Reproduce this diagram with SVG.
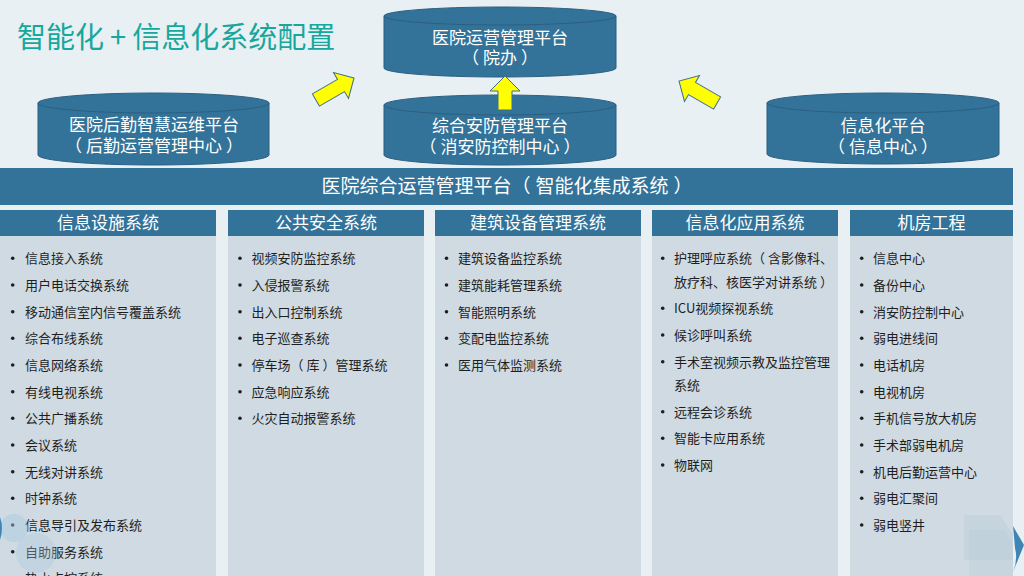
<svg xmlns="http://www.w3.org/2000/svg" width="1024" height="576" viewBox="0 0 1024 576">
<style>
.cjk{font-family:"Noto Sans CJK SC","Liberation Sans",sans-serif}
.cyl{fill:#33739A;stroke:#2B5F80;stroke-width:1}
.cylw{fill:#FFFFFF;font-size:17px;text-anchor:middle}
.hdr{fill:#33739A}
.hdrt{fill:#FFFFFF;font-size:17px;text-anchor:middle}
.panel{fill:#D0DAE2}
.item{fill:#1E1E1E;font-size:13px}
.dot{fill:#1E1E1E}
.arrow{fill:#FFFF00;stroke:#3F6F8C;stroke-width:1}
</style>
<rect x="0" y="0" width="1024" height="576" fill="#E9F0F4"/>
<text class="cjk" x="17" y="48" font-size="29" fill="#17A79C">智能化<tspan dx="6">+</tspan><tspan dx="6">信息化系统配置</tspan></text>

<g id="cyl-top">
<path class="cyl" d="M384,16 L384,68 A116,9 0 0 0 616,68 L616,16 Z"/>
<ellipse class="cyl" cx="500" cy="16" rx="116" ry="9"/>
<text class="cjk cylw" x="500" y="44">医院运营管理平台</text>
<text class="cjk cylw" x="500" y="64">（<tspan dx="4">院办</tspan><tspan dx="4">）</tspan></text>
</g>
<g id="cyl-left">
<path class="cyl" d="M38,103 L38,155 A115.5,10 0 0 0 269,155 L269,103 Z"/>
<ellipse class="cyl" cx="153.5" cy="103" rx="115.5" ry="10"/>
<text class="cjk cylw" x="154" y="131">医院后勤智慧运维平台</text>
<text class="cjk cylw" x="154" y="152">（<tspan dx="4">后勤运营管理中心</tspan><tspan dx="4">）</tspan></text>
</g>
<g id="cyl-mid">
<path class="cyl" d="M384,105 L384,155 A116,10 0 0 0 616,155 L616,105 Z"/>
<ellipse class="cyl" cx="500" cy="105" rx="116" ry="10"/>
<text class="cjk cylw" x="500" y="132">综合安防管理平台</text>
<text class="cjk cylw" x="500" y="153">（<tspan dx="4">消安防控制中心</tspan><tspan dx="4">）</tspan></text>
</g>
<g id="cyl-right">
<path class="cyl" d="M767,103 L767,154 A116,10 0 0 0 999,154 L999,103 Z"/>
<ellipse class="cyl" cx="883" cy="103" rx="116" ry="10"/>
<text class="cjk cylw" x="883" y="132">信息化平台</text>
<text class="cjk cylw" x="883" y="153">（<tspan dx="4">信息中心</tspan><tspan dx="4">）</tspan></text>
</g>

<g id="connectors">
<polygon class="arrow" points="0,0 -15,-15 -15,-7 -44,-7 -44,7 -15,7 -15,15" transform="translate(354,78) rotate(-30)"/>
<polygon class="arrow" points="505,76 520,91 512,91 512,110 498,110 498,91 490,91"/>
<polygon class="arrow" points="0,0 -15,-15 -15,-7 -44,-7 -44,7 -15,7 -15,15" transform="translate(679,81) rotate(-150)"/>
</g>

<g id="banner">
<rect x="0" y="168" width="1013" height="37" fill="#33739A"/>
<text class="cjk" x="507" y="193" font-size="19" fill="#FFFFFF" text-anchor="middle">医院综合运营管理平台（<tspan dx="5">智能化集成系统</tspan><tspan dx="5">）</tspan></text>
</g>

<g id="col1">
<rect class="panel" x="0" y="236" width="216" height="340"/>
<rect class="hdr" x="0" y="210" width="216" height="26"/>
<text class="cjk hdrt" x="108" y="229">信息设施系统</text>
<g class="cjk item">
<text x="25" y="263">信息接入系统</text>
<text x="25" y="290">用户电话交换系统</text>
<text x="25" y="317">移动通信室内信号覆盖系统</text>
<text x="25" y="343">综合布线系统</text>
<text x="25" y="370">信息网络系统</text>
<text x="25" y="397">有线电视系统</text>
<text x="25" y="423">公共广播系统</text>
<text x="25" y="450">会议系统</text>
<text x="25" y="477">无线对讲系统</text>
<text x="25" y="503">时钟系统</text>
<text x="25" y="530">信息导引及发布系统</text>
<text x="25" y="557">自助服务系统</text>
<text x="25" y="583">热水点控系统</text>
</g>
<g class="dot">
<circle cx="12.7" cy="258.3" r="1.8"/><circle cx="12.7" cy="285" r="1.8"/><circle cx="12.7" cy="311.7" r="1.8"/><circle cx="12.7" cy="338.3" r="1.8"/><circle cx="12.7" cy="365" r="1.8"/><circle cx="12.7" cy="391.7" r="1.8"/><circle cx="12.7" cy="418.3" r="1.8"/><circle cx="12.7" cy="445" r="1.8"/><circle cx="12.7" cy="471.7" r="1.8"/><circle cx="12.7" cy="498.3" r="1.8"/><circle cx="12.7" cy="525" r="1.8"/><circle cx="12.7" cy="551.7" r="1.8"/>
</g>
</g>

<g id="col2">
<rect class="panel" x="228" y="236" width="196" height="340"/>
<rect class="hdr" x="228" y="210" width="196" height="26"/>
<text class="cjk hdrt" x="326" y="229">公共安全系统</text>
<g class="cjk item">
<text x="251.5" y="263">视频安防监控系统</text>
<text x="251.5" y="290">入侵报警系统</text>
<text x="251.5" y="317">出入口控制系统</text>
<text x="251.5" y="343">电子巡查系统</text>
<text x="251.5" y="370">停车场（<tspan dx="3">库</tspan><tspan dx="3">）</tspan>管理系统</text>
<text x="251.5" y="397">应急响应系统</text>
<text x="251.5" y="423">火灾自动报警系统</text>
</g>
<g class="dot">
<circle cx="240" cy="258.3" r="1.8"/><circle cx="240" cy="285" r="1.8"/><circle cx="240" cy="311.7" r="1.8"/><circle cx="240" cy="338.3" r="1.8"/><circle cx="240" cy="365" r="1.8"/><circle cx="240" cy="391.7" r="1.8"/><circle cx="240" cy="418.3" r="1.8"/>
</g>
</g>

<g id="col3">
<rect class="panel" x="435" y="236" width="206" height="340"/>
<rect class="hdr" x="435" y="210" width="206" height="26"/>
<text class="cjk hdrt" x="538" y="229">建筑设备管理系统</text>
<g class="cjk item">
<text x="458" y="263">建筑设备监控系统</text>
<text x="458" y="290">建筑能耗管理系统</text>
<text x="458" y="317">智能照明系统</text>
<text x="458" y="343">变配电监控系统</text>
<text x="458" y="370">医用气体监测系统</text>
</g>
<g class="dot">
<circle cx="446.5" cy="258.3" r="1.8"/><circle cx="446.5" cy="285" r="1.8"/><circle cx="446.5" cy="311.7" r="1.8"/><circle cx="446.5" cy="338.3" r="1.8"/><circle cx="446.5" cy="365" r="1.8"/>
</g>
</g>

<g id="col4">
<rect class="panel" x="652" y="236" width="186" height="340"/>
<rect class="hdr" x="652" y="210" width="186" height="26"/>
<text class="cjk hdrt" x="745" y="229">信息化应用系统</text>
<g class="cjk item">
<text x="674" y="263">护理呼应系统（<tspan dx="3">含影像科、</tspan></text>
<text x="674" y="287">放疗科、核医学对讲系统<tspan dx="3">）</tspan></text>
<text x="674" y="313">ICU视频探视系统</text>
<text x="674" y="340">候诊呼叫系统</text>
<text x="674" y="367">手术室视频示教及监控管理</text>
<text x="674" y="390">系统</text>
<text x="674" y="417">远程会诊系统</text>
<text x="674" y="443">智能卡应用系统</text>
<text x="674" y="470">物联网</text>
</g>
<g class="dot">
<circle cx="662.7" cy="258.3" r="1.8"/><circle cx="662.7" cy="308.3" r="1.8"/><circle cx="662.7" cy="335" r="1.8"/><circle cx="662.7" cy="361.7" r="1.8"/><circle cx="662.7" cy="411.7" r="1.8"/><circle cx="662.7" cy="438.3" r="1.8"/><circle cx="662.7" cy="465" r="1.8"/>
</g>
</g>

<g id="col5">
<rect class="panel" x="850" y="236" width="163" height="340"/>
<rect class="hdr" x="850" y="210" width="163" height="26"/>
<text class="cjk hdrt" x="931.5" y="229">机房工程</text>
<g class="cjk item">
<text x="873" y="263">信息中心</text>
<text x="873" y="290">备份中心</text>
<text x="873" y="317">消安防控制中心</text>
<text x="873" y="343">弱电进线间</text>
<text x="873" y="370">电话机房</text>
<text x="873" y="397">电视机房</text>
<text x="873" y="423">手机信号放大机房</text>
<text x="873" y="450">手术部弱电机房</text>
<text x="873" y="477">机电后勤运营中心</text>
<text x="873" y="503">弱电汇聚间</text>
<text x="873" y="530">弱电竖井</text>
</g>
<g class="dot">
<circle cx="861.7" cy="258.3" r="1.8"/><circle cx="861.7" cy="285" r="1.8"/><circle cx="861.7" cy="311.7" r="1.8"/><circle cx="861.7" cy="338.3" r="1.8"/><circle cx="861.7" cy="365" r="1.8"/><circle cx="861.7" cy="391.7" r="1.8"/><circle cx="861.7" cy="418.3" r="1.8"/><circle cx="861.7" cy="445" r="1.8"/><circle cx="861.7" cy="471.7" r="1.8"/><circle cx="861.7" cy="498.3" r="1.8"/><circle cx="861.7" cy="525" r="1.8"/>
</g>
</g>

<g id="decor">
<circle cx="14" cy="528" r="14" fill="#A9C9DF" opacity="0.45"/>
<circle cx="36" cy="553" r="20" fill="#A9C9DF" opacity="0.35"/>
<path d="M0,517 Q4,528 0,540 Z" fill="#3F86B5"/>
<path d="M964,515 L1000,515 L1013,535 L1013,560 L964,560 Z" fill="#B8CCD8" opacity="0.45"/>
<path d="M969,530 L1005,530 L1013,545 L1013,576 L969,576 Z" fill="#B8CCD8" opacity="0.35"/>
<path d="M1013,526 L1024,545 L1013,572 Q1018,560 1015,548 Z" fill="#3F86B5"/>
</g>
</svg>
